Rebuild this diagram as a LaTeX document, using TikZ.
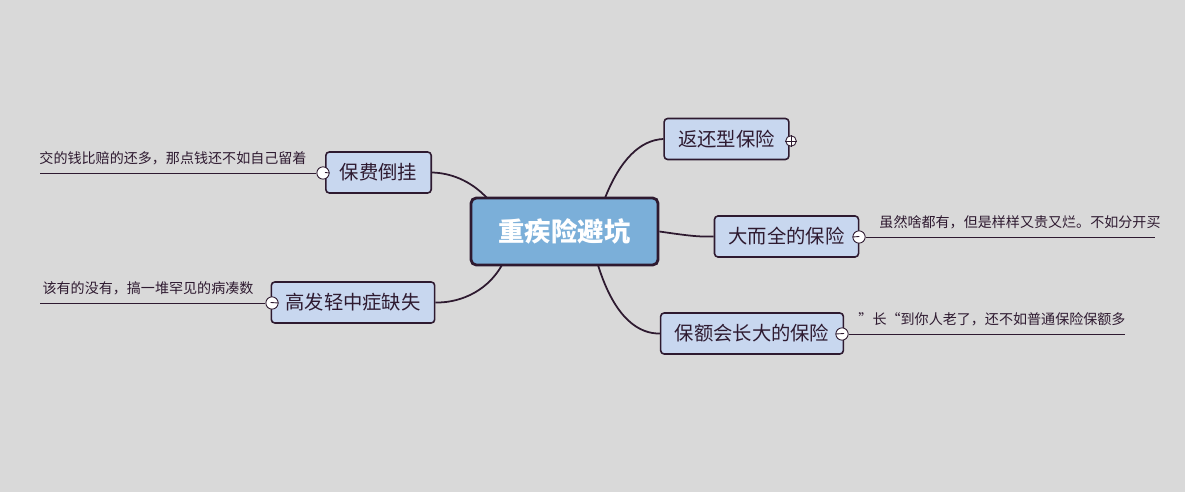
\documentclass[tikz,border=0pt]{standalone}
\usepackage{fontspec}
\setmainfont{Noto Sans CJK SC}
\definecolor{bg}{HTML}{D9D9D9}
\definecolor{ink}{HTML}{2E1A30}
\definecolor{rootfill}{HTML}{7BAFD9}
\definecolor{topicfill}{HTML}{C8D7EF}
\tikzset{
  root/.style={draw=ink, line width=1.6pt, fill=rootfill, rounded corners=3pt,
    minimum width=187*0.02cm, minimum height=67*0.02cm, text=white, font=\bfseries\fontsize{15}{18}\selectfont},
  topic/.style={draw=ink, line width=0.9pt, fill=topicfill, rounded corners=2pt,
    minimum height=41*0.02cm, inner xsep=8pt, font=\fontsize{11}{13}\selectfont, text=ink},
  knob/.style={circle, draw=ink, fill=white, line width=0.5pt, inner sep=0pt, minimum size=7pt},
  note/.style={font=\fontsize{8}{10}\selectfont, text=ink},
  branch/.style={draw=ink, line width=1pt},
  leaf/.style={draw=ink, line width=0.5pt}
}
\begin{document}
\begin{tikzpicture}[x=0.02cm, y=-0.02cm]
    \fill[bg] (0,0) rectangle (1185,492);
    \useasboundingbox (0,0) rectangle (1185,492);

    \node[root] (r) at (564.5,231.5) {重疾险避坑};

    \node[topic, minimum width=115*0.02cm] (a) at (726.5,139) {返还型保险};
    \node[topic, minimum width=131*0.02cm] (b) at (786.5,236.5) {大而全的保险};
    \node[topic, minimum width=166*0.02cm] (c) at (752,333.5) {保额会长大的保险};
    \node[topic, minimum width=97*0.02cm] (d) at (378.5,172.5) {保费倒挂};
    \node[topic, minimum width=148*0.02cm] (e) at (353,302.5) {高发轻中症缺失};

    % branches
    \draw[branch] (605,198) .. controls (620,160) and (640,140) .. (a.west);
    \draw[branch] (r.east) .. controls (690,236) and (700,237) .. (b.west);
    \draw[branch] (598,265) .. controls (615,320) and (640,334) .. (c.west);
    \draw[branch] (487,198) .. controls (470,180) and (450,173) .. (d.east);
    \draw[branch] (502,265) .. controls (485,295) and (455,303) .. (e.east);

    % knobs and notes
    \node[knob, minimum size=6pt] (ka) at (791,141) {};
    \draw[ink, line width=0.4pt] (ka.west) -- (ka.east) (ka.north) -- (ka.south);

    \node[knob] (kb) at (859,237) {};
    \coordinate (lb) at (1155,237);
    \draw[leaf] (kb.east) -- (lb);
    \node[note, anchor=south] (nb) at (1020,235) {虽然啥都有，但是样样又贵又烂。不如分开买};

    \node[knob] (kc) at (842,334) {};
    \coordinate (lc) at (1125,334);
    \draw[leaf] (kc.east) -- (lc);
    \node[note, anchor=south] (nc) at (992,332) {”长“到你人老了，还不如普通保险保额多};

    \node[knob] (kd) at (323,173) {};
    \coordinate (ld) at (40,173);
    \draw[leaf] (kd.west) -- (ld);
    \node[note, anchor=south] (nd) at (173,171) {交的钱比赔的还多，那点钱还不如自己留着};

    \node[knob] (ke) at (272,303) {};
    \coordinate (le) at (40,303);
    \draw[leaf] (ke.west) -- (le);
    \node[note, anchor=south] (ne) at (148,301) {该有的没有，搞一堆罕见的病凑数};

    \draw[leaf] (b.east) -- (kb.west);
    \draw[leaf] (c.east) -- (kc.west);
    \draw[leaf] (d.west) -- (kd.east);
    \draw[leaf] (e.west) -- (ke.east);
\end{tikzpicture}
\end{document}
